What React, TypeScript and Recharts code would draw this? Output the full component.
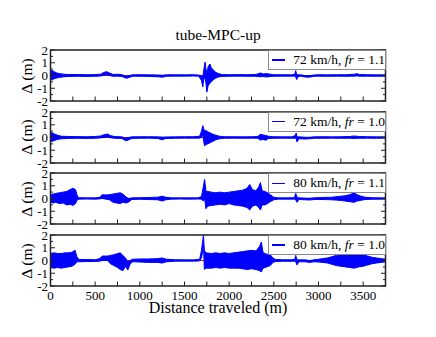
import { ComposedChart, Area, XAxis, YAxis, ReferenceArea } from "recharts"

// distance axis
const xTicks = [0, 250, 500, 750, 1000, 1250, 1500, 1750, 2000, 2250, 2500, 2750, 3000, 3250, 3500]
const xLabelTicks = [0, 500, 1000, 1500, 2000, 2500, 3000, 3500]
const yTicks = [-2, -1.5, -1, -0.5, 0, 0.5, 1, 1.5, 2]
const yLabelTicks = [-2, -1, 0, 1, 2]

const speeds = ["72 km/h", "72 km/h", "80 km/h", "80 km/h"]
const frs = ["1.1", "1.0", "1.1", "1.0"]

// [distance, lower envelope, upper envelope] of the tracking error
const err72fr11: [number, number, number][] = [
  [0, -0.3, 0.35], [20, -0.35, 0.4], [40, -0.25, 0.3], [70, -0.2, 0.2], [100, -0.15, 0.15],
  [150, -0.1, 0.1], [200, -0.08, 0.08], [300, -0.06, 0.08], [400, -0.07, 0.06], [500, -0.06, 0.07],
  [560, -0.04, 0.1], [600, 0.02, 0.25], [630, 0.05, 0.3], [660, 0.0, 0.2], [700, -0.06, 0.08],
  [750, -0.05, 0.1], [800, -0.08, 0.06], [850, -0.22, -0.05], [880, -0.15, 0.0], [920, -0.06, 0.06],
  [1000, -0.06, 0.06], [1100, -0.07, 0.05], [1200, -0.1, 0.04], [1250, -0.13, 0.02], [1300, -0.06, 0.05],
  [1400, -0.05, 0.06], [1500, -0.05, 0.05], [1600, -0.04, 0.06], [1660, -0.05, 0.03], [1690, -0.4, 0.0],
  [1705, -0.9, -0.1], [1715, -0.3, 0.4], [1730, -0.2, 1.05], [1740, -0.6, 0.5], [1750, -1.3, 0.2],
  [1765, -0.8, 0.7], [1785, -0.6, 0.9], [1800, -0.5, 0.6], [1820, -0.35, 0.45], [1850, -0.2, 0.25],
  [1880, -0.12, 0.15], [1920, -0.07, 0.07], [2000, -0.06, 0.06], [2100, -0.05, 0.07], [2200, -0.06, 0.06],
  [2300, -0.06, 0.08], [2350, -0.1, 0.2], [2380, -0.08, 0.12], [2420, -0.12, 0.15], [2460, -0.08, 0.1],
  [2500, -0.06, 0.06], [2600, -0.05, 0.06], [2700, -0.05, 0.05], [2735, -0.05, 0.1], [2745, -0.1, 0.38],
  [2755, -0.32, 0.1], [2770, -0.1, 0.05], [2800, -0.05, 0.05], [2850, -0.12, 0.0], [2900, -0.13, -0.02],
  [2950, -0.06, 0.04], [3000, -0.05, 0.06], [3100, -0.06, 0.05], [3200, -0.05, 0.06], [3300, -0.06, 0.06],
  [3400, -0.05, 0.1], [3430, -0.03, 0.14], [3460, -0.06, 0.08], [3550, -0.05, 0.06], [3650, -0.06, 0.05],
  [3750, -0.05, 0.05],
]

const err72fr10: [number, number, number][] = [
  [0, -0.3, 0.35], [20, -0.3, 0.38], [50, -0.22, 0.25], [80, -0.15, 0.18], [120, -0.1, 0.1],
  [200, -0.07, 0.08], [300, -0.06, 0.07], [400, -0.07, 0.06], [500, -0.06, 0.08], [560, -0.03, 0.12],
  [600, 0.0, 0.22], [640, 0.03, 0.28], [670, -0.02, 0.15], [720, -0.06, 0.07], [800, -0.08, 0.05],
  [840, -0.25, -0.05], [870, -0.2, 0.0], [910, -0.07, 0.05], [1000, -0.06, 0.06], [1100, -0.05, 0.06],
  [1200, -0.08, 0.05], [1250, -0.18, 0.03], [1290, -0.08, 0.04], [1400, -0.06, 0.05], [1500, -0.05, 0.06],
  [1600, -0.05, 0.06], [1670, -0.05, 0.1], [1690, 0.0, 0.5], [1705, 0.2, 0.93], [1715, -0.3, 0.7],
  [1725, -0.67, 0.5], [1740, -0.55, 0.55], [1760, -0.5, 0.45], [1790, -0.4, 0.35], [1820, -0.3, 0.25],
  [1850, -0.18, 0.18], [1890, -0.1, 0.1], [1950, -0.06, 0.06], [2050, -0.05, 0.06], [2150, -0.06, 0.05],
  [2250, -0.05, 0.06], [2320, -0.06, 0.08], [2350, -0.2, 0.25], [2380, -0.15, 0.2], [2410, -0.22, 0.15],
  [2440, -0.08, 0.1], [2500, -0.06, 0.06], [2600, -0.05, 0.05], [2700, -0.06, 0.05], [2740, -0.05, 0.15],
  [2750, -0.1, 0.35], [2760, -0.35, 0.05], [2780, -0.1, 0.05], [2850, -0.12, 0.02], [2900, -0.1, 0.02],
  [2950, -0.06, 0.05], [3050, -0.06, 0.06], [3150, -0.05, 0.05], [3250, -0.06, 0.06], [3350, -0.06, 0.08],
  [3400, -0.08, 0.12], [3450, -0.06, 0.08], [3550, -0.05, 0.06], [3650, -0.06, 0.05], [3750, -0.05, 0.05],
]

const err80fr11: [number, number, number][] = [
  [0, -0.3, 0.3], [30, -0.35, 0.35], [60, -0.3, 0.4], [100, -0.4, 0.45], [140, -0.35, 0.5],
  [180, -0.5, 0.55], [220, -0.45, 0.7], [250, -0.55, 0.8], [280, -0.4, 0.7], [300, -0.1, 0.2],
  [320, -0.05, 0.06], [400, -0.04, 0.05], [500, -0.05, 0.05], [550, -0.03, 0.1], [580, 0.0, 0.3],
  [620, -0.05, 0.28], [660, -0.1, 0.3], [700, -0.3, 0.35], [740, -0.35, 0.4], [780, -0.4, 0.45],
  [810, -0.3, 0.35], [850, -0.35, 0.1], [880, -0.25, 0.0], [910, -0.08, 0.05], [1000, -0.06, 0.06],
  [1100, -0.08, 0.08], [1200, -0.1, 0.1], [1250, -0.2, 0.18], [1290, -0.1, 0.1], [1350, -0.05, 0.05],
  [1450, -0.04, 0.05], [1550, -0.05, 0.05], [1650, -0.04, 0.05], [1690, -0.05, 0.15], [1710, -0.2, 0.9],
  [1725, 0.0, 1.5], [1740, -0.8, 0.6], [1760, -0.6, 0.55], [1800, -0.55, 0.5], [1850, -0.5, 0.45],
  [1900, -0.45, 0.5], [1950, -0.5, 0.45], [2000, -0.4, 0.5], [2050, -0.5, 0.55], [2100, -0.55, 0.6],
  [2150, -0.6, 0.65], [2200, -0.7, 0.8], [2230, -0.9, 1.1], [2260, -0.6, 0.7], [2300, -0.5, 0.6],
  [2330, -0.7, 0.9], [2350, -0.9, 1.25], [2370, -0.5, 0.6], [2400, -0.5, 0.55], [2430, -0.4, 0.45],
  [2460, -0.25, 0.3], [2500, -0.1, 0.1], [2550, -0.05, 0.05], [2650, -0.05, 0.05], [2730, -0.05, 0.06],
  [2745, -0.1, 0.4], [2760, -0.3, 0.1], [2780, -0.08, 0.05], [2850, -0.1, 0.03], [2900, -0.12, 0.02],
  [2950, -0.08, 0.05], [3050, -0.08, 0.08], [3150, -0.1, 0.1], [3250, -0.15, 0.18], [3300, -0.2, 0.22],
  [3350, -0.25, 0.3], [3400, -0.3, 0.45], [3430, -0.2, 0.3], [3470, -0.15, 0.2], [3520, -0.08, 0.1],
  [3600, -0.06, 0.06], [3700, -0.05, 0.05], [3750, -0.05, 0.05],
]

const err80fr10: [number, number, number][] = [
  [0, -0.55, 0.55], [40, -0.6, 0.6], [80, -0.55, 0.55], [120, -0.6, 0.55], [160, -0.55, 0.6],
  [200, -0.5, 0.6], [240, -0.45, 0.65], [275, -0.3, 0.8], [295, -0.1, 0.3], [320, -0.1, 0.08],
  [400, -0.08, 0.08], [500, -0.08, 0.06], [550, -0.05, 0.15], [580, 0.0, 0.35], [640, 0.0, 0.35],
  [670, -0.25, 0.4], [710, -0.4, 0.45], [750, -0.55, 0.55], [780, -0.7, 0.6], [810, -0.8, 0.4],
  [840, -0.45, 0.2], [865, -0.75, -0.1], [890, -0.3, 0.0], [920, -0.1, 0.1], [1000, -0.12, 0.12],
  [1100, -0.15, 0.12], [1200, -0.15, 0.15], [1250, -0.2, 0.2], [1300, -0.1, 0.1], [1400, -0.05, 0.06],
  [1500, -0.05, 0.05], [1600, -0.05, 0.05], [1670, -0.03, 0.1], [1690, 0.2, 0.8], [1705, 0.8, 1.6],
  [1712, 1.3, 2.0], [1722, -0.7, 0.8], [1740, -0.6, 0.6], [1800, -0.6, 0.55], [1850, -0.55, 0.6],
  [1900, -0.6, 0.55], [1950, -0.55, 0.6], [2000, -0.6, 0.55], [2050, -0.6, 0.6], [2100, -0.6, 0.65],
  [2150, -0.65, 0.7], [2200, -0.7, 0.75], [2250, -0.65, 0.8], [2300, -0.7, 0.75], [2340, -0.8, 1.1],
  [2360, -0.9, 1.45], [2380, -0.6, 0.6], [2420, -0.5, 0.5], [2460, -0.4, 0.45], [2490, -0.15, 0.2],
  [2520, -0.08, 0.08], [2600, -0.06, 0.06], [2700, -0.06, 0.06], [2735, -0.05, 0.1], [2745, -0.1, 0.4],
  [2760, -0.35, 0.05], [2780, -0.1, 0.05], [2850, -0.1, 0.05], [2900, -0.15, 0.0], [2950, -0.1, 0.05],
  [3000, -0.12, 0.1], [3050, -0.15, 0.15], [3100, -0.2, 0.2], [3150, -0.3, 0.3], [3200, -0.4, 0.4],
  [3250, -0.45, 0.45], [3300, -0.5, 0.5], [3350, -0.55, 0.5], [3400, -0.6, 0.55], [3450, -0.5, 0.5],
  [3500, -0.45, 0.45], [3550, -0.35, 0.35], [3600, -0.25, 0.25], [3650, -0.2, 0.2], [3700, -0.15, 0.15],
  [3750, -0.1, 0.1],
]

// reference path (red)
const refPath: [number, number][] = [[0, 0], [3750, 0]]

const errors = [err72fr11, err72fr10, err80fr11, err80fr10]

const FONT = "'Liberation Serif', 'Times New Roman', Times, serif"
const INK = "#222"
const PLOT_TOP = [50, 111.7, 173.3, 235]
const PLOT_H = 51

function XTick(props: any) {
  const { x, y, payload, dir, labels } = props
  const v = payload.value
  return (
    <g>
      <line x1={x} x2={x} y1={y} y2={y + dir * 4.5} stroke={INK} strokeWidth={1} />
      {labels && xLabelTicks.includes(v) && (
        <text x={x} y={y + 13.5} textAnchor="middle" fontFamily={FONT} fontSize={13} fill="#000">
          {v}
        </text>
      )}
    </g>
  )
}

function YTick(props: any) {
  const { x, y, payload, dir, labels } = props
  const v = payload.value
  const major = yLabelTicks.includes(v)
  return (
    <g>
      <line x1={x} x2={x + dir * (major ? 4.5 : 2.5)} y1={y} y2={y} stroke={INK} strokeWidth={1} />
      {labels && major && (
        <text x={x - 2.5} y={y + 4.5} textAnchor="end" fontFamily={FONT} fontSize={13} fill="#000">
          {v}
        </text>
      )}
    </g>
  )
}

function Panel({ idx }: { idx: number }) {
  const last = idx === errors.length - 1
  const mTop = 10
  const mBottom = last ? 24 : 10
  const rows = errors[idx].map(([x, lo, hi]) => ({ x, band: [lo, hi] }))
  const ref = refPath.map(([x, y]) => ({ x, ref: y }))
  const top = PLOT_TOP[idx]

  return (
    <div style={{ position: "absolute", left: 0, top: top - mTop }}>
      <ComposedChart
        width={436}
        height={PLOT_H + mTop + mBottom}
        data={rows}
        margin={{ top: mTop - 1, right: 49.5, bottom: mBottom - 1, left: 0.5 }}
      >
        <XAxis
          xAxisId="b"
          dataKey="x"
          type="number"
          domain={[0, 3750]}
          allowDataOverflow
          ticks={xTicks}
          interval={0}
          height={1}
          tickSize={0}
          tickMargin={0}
          axisLine={false}
          tickLine={false}
          tick={<XTick dir={-1} labels={last} />}
        />
        <XAxis
          xAxisId="t"
          orientation="top"
          type="number"
          domain={[0, 3750]}
          allowDataOverflow
          ticks={xTicks}
          interval={0}
          height={1}
          tickSize={0}
          tickMargin={0}
          axisLine={false}
          tickLine={false}
          tick={<XTick dir={1} labels={false} />}
        />
        <YAxis
          yAxisId="l"
          type="number"
          domain={[-2, 2]}
          allowDataOverflow
          ticks={yTicks}
          interval={0}
          width={50}
          tickSize={0}
          tickMargin={0}
          axisLine={false}
          tickLine={false}
          tick={<YTick dir={1} labels />}
        />
        <YAxis
          yAxisId="r"
          orientation="right"
          type="number"
          domain={[-2, 2]}
          allowDataOverflow
          ticks={yTicks}
          interval={0}
          width={1}
          tickSize={0}
          tickMargin={0}
          axisLine={false}
          tickLine={false}
          tick={<YTick dir={-1} labels={false} />}
        />
        <Area
          xAxisId="b"
          yAxisId="l"
          data={ref}
          dataKey="ref"
          type="linear"
          stroke="#ff0000"
          strokeWidth={1}
          fill="none"
          fillOpacity={0}
          isAnimationActive={false}
        />
        <Area
          xAxisId="b"
          yAxisId="l"
          dataKey="band"
          type="linear"
          stroke="#0000ff"
          strokeWidth={1}
          fill="#0000ff"
          fillOpacity={1}
          isAnimationActive={false}
        />
        <ReferenceArea
          xAxisId="b"
          yAxisId="l"
          x1={0}
          x2={3750}
          y1={-2}
          y2={2}
          fill="none"
          stroke={INK}
          strokeWidth={1.5}
          ifOverflow="visible"
        />
      </ComposedChart>

      {/* legend */}
      <div
        style={{
          position: "absolute",
          left: 268,
          top: mTop,
          width: 116,
          height: 18,
          background: "#fff",
          border: "1px solid #888",
          fontFamily: FONT,
          fontSize: 13.5,
          lineHeight: "18px",
          whiteSpace: "nowrap",
          display: "flex",
          alignItems: "center",
        }}
      >
        <span style={{ display: "inline-block", width: 14, height: 1.5, background: "#0000ff", margin: "0 8px 0 3px" }} />
        <span>
          {speeds[idx]}, <i>fr</i> = {frs[idx]}
        </span>
      </div>

      {/* y label */}
      <div
        style={{
          position: "absolute",
          left: 27,
          top: mTop + PLOT_H / 2,
          transform: "translate(-50%, -50%) rotate(-90deg)",
          fontFamily: FONT,
          fontSize: 15.5,
          whiteSpace: "nowrap",
        }}
      >
        Δ (m)
      </div>
    </div>
  )
}

export default function App() {
  return (
    <div
      style={{
        position: "fixed",
        left: 0,
        top: 0,
        width: 436,
        height: 337,
        background: "#fff",
        fontFamily: FONT,
        color: "#000",
      }}
    >
      <div style={{ position: "absolute", left: 0, width: 436, top: 26, textAlign: "center", fontSize: 15.5 }}>
        tube-MPC-up
      </div>
      {errors.map((_, i) => (
        <Panel key={i} idx={i} />
      ))}
      <div style={{ position: "absolute", left: 0, width: 436, top: 299, textAlign: "center", fontSize: 16 }}>
        Distance traveled (m)
      </div>
    </div>
  )
}
